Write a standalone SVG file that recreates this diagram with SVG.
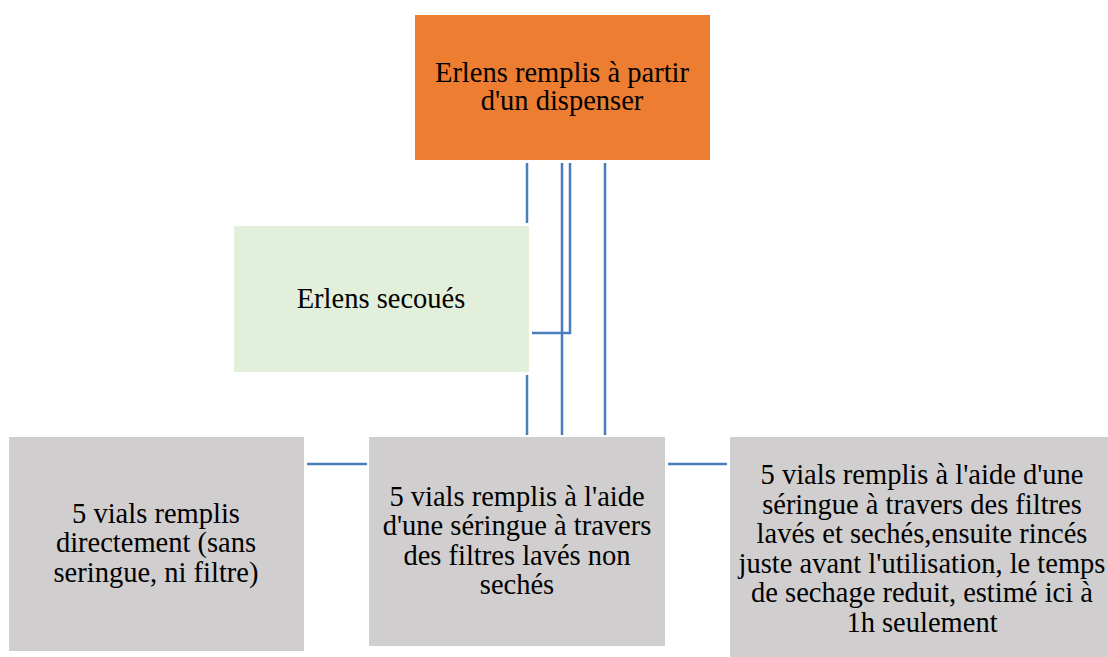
<svg xmlns="http://www.w3.org/2000/svg" width="1108" height="657" viewBox="0 0 1108 657">
<style>
.t{font-family:"Liberation Serif","Times New Roman",serif;font-size:28.5px;fill:#000;text-anchor:middle}
.gray{fill:#D0CECE}
.conn line,.conn polyline{stroke:#4A7EBB;stroke-width:2.5;fill:none}
</style>
<rect width="1108" height="657" fill="#fff"/>
<g id="top">
<rect x="415" y="15" width="295" height="145" fill="#ED7D31"/>
<text class="t" x="562" y="82">Erlens remplis à partir</text>
<text class="t" x="562" y="110">d'un dispenser</text>
</g>
<g id="shaken">
<rect x="234" y="226" width="295" height="146" fill="#E2EFDA"/>
<text class="t" x="381" y="307.5">Erlens secoués</text>
</g>
<g id="left">
<rect class="gray" x="9" y="437" width="295" height="214"/>
<text class="t" x="156" y="522.5">5 vials remplis</text>
<text class="t" x="156" y="552">directement (sans</text>
<text class="t" x="156" y="581.5">seringue, ni filtre)</text>
</g>
<g id="middle">
<rect class="gray" x="369" y="437" width="296" height="209"/>
<text class="t" x="517" y="505.5">5 vials remplis à l'aide</text>
<text class="t" x="517" y="535">d'une séringue à travers</text>
<text class="t" x="517" y="565">des filtres lavés non</text>
<text class="t" x="517" y="594">sechés</text>
</g>
<g id="right">
<rect class="gray" x="730" y="437" width="400" height="220"/>
<text class="t" x="922" y="484">5 vials remplis à l'aide d'une</text>
<text class="t" x="922" y="513.6">séringue à travers des filtres</text>
<text class="t" x="922" y="543.2">lavés et sechés,ensuite rincés</text>
<text class="t" x="922" y="572.8">juste avant l'utilisation, le temps</text>
<text class="t" x="922" y="602.4">de sechage reduit, estimé ici à</text>
<text class="t" x="922" y="632">1h seulement</text>
</g>
<g class="conn" id="connectors">
<line x1="527" y1="163" x2="527" y2="223"/>
<line x1="527" y1="375" x2="527" y2="435"/>
<line x1="562" y1="163" x2="562" y2="435"/>
<polyline points="570,163 570,333 532,333"/>
<line x1="605" y1="163" x2="605" y2="435"/>
<line x1="307" y1="464" x2="367" y2="464"/>
<line x1="668" y1="464" x2="727" y2="464"/>
</g>
</svg>
